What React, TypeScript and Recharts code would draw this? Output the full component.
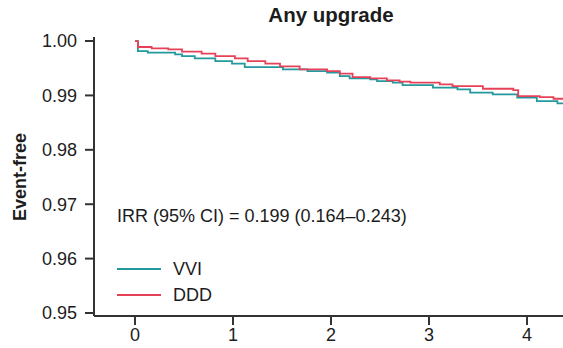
import { LineChart, Line, XAxis, YAxis } from 'recharts'

// Kaplan-Meier style survival free of upgrade
const vviTime = [0, 0.03, 0.13, 0.41, 0.48, 0.61, 0.82, 0.99, 1.12, 1.51, 1.76, 1.96, 2.09, 2.19, 2.4, 2.47, 2.63, 2.73, 3.04, 3.29, 3.42, 3.65, 3.9, 4.1, 4.31, 4.45]
const vviFree = [1.0, 0.99816, 0.99786, 0.99755, 0.99724, 0.99681, 0.99632, 0.99584, 0.99521, 0.99479, 0.99448, 0.99418, 0.99355, 0.99313, 0.99295, 0.99263, 0.99234, 0.9919, 0.99142, 0.9911, 0.9905, 0.99018, 0.98958, 0.98895, 0.98853, 0.98853]

const dddTime = [0, 0.03, 0.17, 0.34, 0.48, 0.68, 0.82, 1.02, 1.15, 1.33, 1.48, 1.68, 1.96, 2.09, 2.22, 2.4, 2.57, 2.7, 2.81, 3.11, 3.24, 3.55, 3.86, 3.91, 4.13, 4.27, 4.45]
const dddFree = [1.0, 0.9989, 0.99866, 0.99847, 0.99805, 0.99768, 0.99724, 0.99681, 0.99632, 0.99584, 0.99534, 0.99479, 0.99448, 0.994, 0.99337, 0.99313, 0.99276, 0.99252, 0.99234, 0.99203, 0.99171, 0.99123, 0.99098, 0.98987, 0.98969, 0.98939, 0.98939]

const xTicks = [0, 1, 2, 3, 4]
const yTicks = [0.95, 0.96, 0.97, 0.98, 0.99, 1.0]

const TEAL = '#23999e'
const RED = '#e5425a'
const INK = '#1c1c1c'
const AXIS = '#333'
const FONT = '"Liberation Sans", Arial, Helvetica, sans-serif'

const vviData = vviTime.map((t, i) => ({ t, s: vviFree[i] }))
const dddData = dddTime.map((t, i) => ({ t, s: dddFree[i] }))

function Key() {
  const row = (color: string, label: string) => (
    <div style={{ display: 'flex', alignItems: 'center', height: 26 }}>
      <div style={{ width: 44, height: 0, borderTop: `2px solid ${color}`, marginRight: 12 }} />
      <span>{label}</span>
    </div>
  )
  return (
    <div
      style={{
        position: 'absolute',
        left: 117,
        top: 206,
        fontFamily: FONT,
        fontSize: 18,
        color: INK,
        lineHeight: '20px',
        whiteSpace: 'nowrap',
      }}
    >
      <div style={{ marginBottom: 30 }}>IRR (95% CI) = 0.199 (0.164–0.243)</div>
      {row(TEAL, 'VVI')}
      {row(RED, 'DDD')}
    </div>
  )
}

export default function App() {
  return (
    <div style={{ width: 563, height: 348, background: '#fff', position: 'relative', fontFamily: FONT }}>
      <style>{`body{margin:0}`}</style>
      <div
        style={{
          position: 'absolute',
          top: 3,
          left: 331,
          transform: 'translateX(-50%)',
          fontSize: 20.5,
          fontWeight: 700,
          color: INK,
          whiteSpace: 'nowrap',
        }}
      >
        Any upgrade
      </div>
      <LineChart width={563} height={348} margin={{ top: 37, right: 0, bottom: 0, left: 0 }}>
        <XAxis
          xAxisId="top"
          orientation="top"
          type="number"
          dataKey="t"
          domain={[-0.418, 4.367]}
          allowDataOverflow
          tick={false}
          tickLine={false}
          height={0}
          axisLine={{ stroke: AXIS, strokeWidth: 2 }}
        />
        <XAxis
          type="number"
          dataKey="t"
          domain={[-0.418, 4.367]}
          allowDataOverflow
          ticks={xTicks}
          height={32}
          tickSize={9}
          tickMargin={3}
          tick={{ fill: INK, fontSize: 18, fontFamily: FONT }}
          axisLine={{ stroke: AXIS, strokeWidth: 2 }}
          tickLine={{ stroke: AXIS, strokeWidth: 2 }}
        />
        <YAxis
          type="number"
          domain={[0.94945, 1.00074]}
          allowDataOverflow
          ticks={yTicks}
          width={94}
          tickSize={9}
          tickMargin={8}
          tickFormatter={(v: number) => v.toFixed(2)}
          tick={{ fill: INK, fontSize: 18, fontFamily: FONT }}
          axisLine={{ stroke: AXIS, strokeWidth: 2 }}
          tickLine={{ stroke: AXIS, strokeWidth: 2 }}
          label={{
            content: () => (
              <text
                x={20}
                y={177}
                transform="rotate(-90 20 177)"
                textAnchor="middle"
                dominantBaseline="central"
                fontSize={18}
                fontWeight={700}
                fill={INK}
                fontFamily={FONT}
              >
                Event-free
              </text>
            ),
          }}
        />
        <Line
          data={vviData}
          dataKey="s"
          name="VVI"
          type="stepAfter"
          stroke={TEAL}
          strokeWidth={1.8}
          dot={false}
          isAnimationActive={false}
        />
        <Line
          data={dddData}
          dataKey="s"
          name="DDD"
          type="stepAfter"
          stroke={RED}
          strokeWidth={1.8}
          dot={false}
          isAnimationActive={false}
        />
      </LineChart>
      <Key />
    </div>
  )
}
